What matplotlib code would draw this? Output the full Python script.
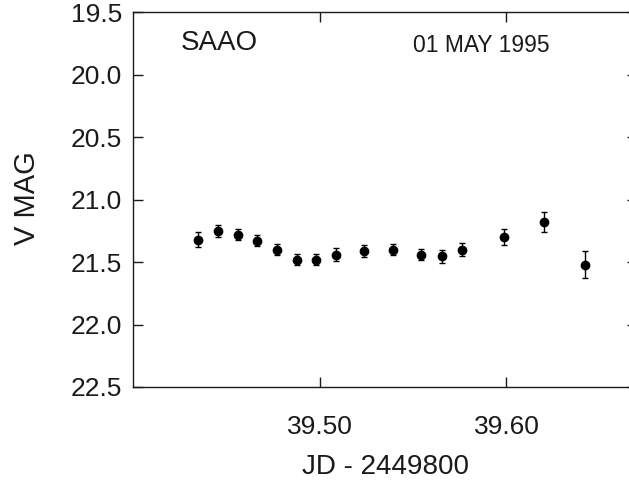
import numpy as np
import matplotlib
matplotlib.use('Agg')
from matplotlib import pyplot as plt

plt.rcParams['font.family'] = ['Liberation Sans', 'DejaVu Sans']

# V-band light curve, SAAO, 01 May 1995
jd = [39.4348, 39.4455, 39.4560, 39.4664, 39.4770, 39.4875, 39.4980, 39.5086,
      39.5237, 39.5390, 39.5543, 39.5653, 39.5764, 39.5987, 39.6200, 39.6420]
vmag = [21.32, 21.25, 21.28, 21.33, 21.40, 21.48, 21.48, 21.44,
        21.41, 21.40, 21.44, 21.455, 21.40, 21.30, 21.18, 21.52]
verr = [0.057, 0.050, 0.045, 0.043, 0.044, 0.044, 0.047, 0.050,
        0.048, 0.045, 0.045, 0.050, 0.050, 0.061, 0.077, 0.105]

yticks = [19.5, 20.0, 20.5, 21.0, 21.5, 22.0, 22.5]
xticks = [39.50, 39.60]

ink = '#1a1a1a'

fig = plt.figure(figsize=(6.29, 4.83), dpi=100)
ax = fig.add_axes([0.2122, 0.1988, 0.8005, 0.7758])

ax.errorbar(jd, vmag, yerr=verr, fmt='o', color='black', ms=6,
            elinewidth=1, capsize=2.3, capthick=1)

ax.set_xlim(39.40, 39.67)
ax.set_ylim(22.5, 19.5)
ax.set_xticks(xticks)
ax.set_xticklabels(['%.2f' % t for t in xticks])
ax.set_yticks(yticks)
ax.set_yticklabels(['%.1f' % t for t in yticks])

ax.tick_params(axis='both', direction='in', length=7, width=1, color=ink,
               labelsize=19, labelcolor=ink, top=True, right=True)
ax.tick_params(axis='x', pad=20)
ax.tick_params(axis='y', pad=8)
for s in ax.spines.values():
    s.set_linewidth(1)
    s.set_color(ink)

ax.set_xlabel('JD - 2449800', fontsize=20, color=ink)
ax.xaxis.set_label_coords(0.5, -0.18)
ax.set_ylabel('V MAG', fontsize=21, color=ink)
ax.yaxis.set_label_coords(-0.184, 0.505)

ax.text(0.094, 0.899, 'SAAO', transform=ax.transAxes, fontsize=20,
        color=ink, va='baseline', ha='left')
ax.text(0.555, 0.894, '01 MAY 1995', transform=ax.transAxes, fontsize=16.5,
        color=ink, va='baseline', ha='left')

fig.savefig('out.png', dpi=100)
